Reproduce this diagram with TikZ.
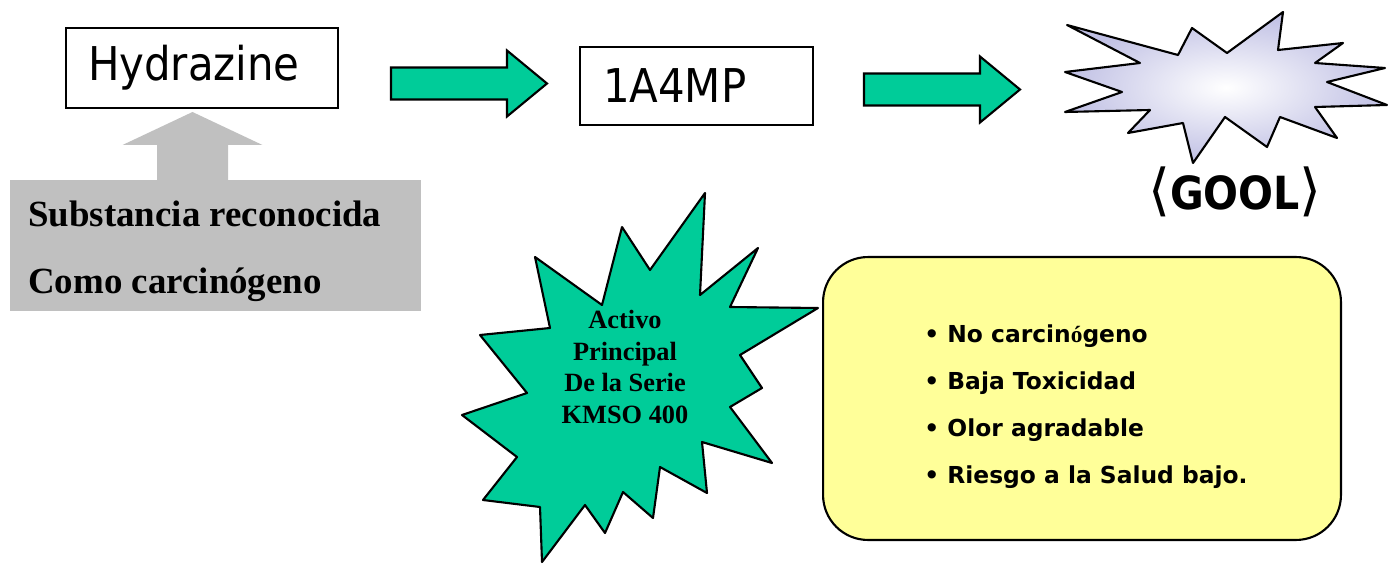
\documentclass[tikz,border=0pt]{standalone}
\usepackage{fontspec}
\setmainfont{Liberation Serif}
\newfontfamily\timesf{Liberation Serif}
\newfontfamily\tahoma{DejaVu Sans Condensed}
\newfontfamily\verdana{DejaVu Sans}
\usepackage{tikz}

\definecolor{kmgreen}{RGB}{0,204,153}
\definecolor{kmyellow}{RGB}{255,255,153}
\definecolor{kmgray}{RGB}{192,192,192}
\definecolor{kmlav}{RGB}{192,192,228}

\tikzset{
  namebox/.style={draw, line width=1.2pt, align=left, minimum height=1.6cm,
    font=\tahoma\fontsize{26.5}{30}\selectfont},
  blockarrow/.style={draw, fill=kmgreen, line width=1.2pt},
  burst/.style={draw, line width=1.2pt, line join=round},
  riskbox/.style={fill=kmgray, inner sep=0pt},
  risktext/.style={font=\timesf\bfseries\fontsize{21}{25}\selectfont, anchor=base west, inner sep=0pt},
  startext/.style={font=\timesf\bfseries\fontsize{15}{18}\selectfont, align=center},
  perkbox/.style={draw, fill=kmyellow, line width=1.2pt, rounded corners=0.9cm},
  perktext/.style={font=\verdana\bfseries\fontsize{13.3}{16}\selectfont, anchor=base west, inner sep=0pt},
}

\begin{document}
\begin{tikzpicture}[x=0.02cm, y=-0.02cm]
  \useasboundingbox (0,0) rectangle (1388,564); %page size in px

  \pgfmathsetmacro {\shl}{116}  %shaft length
  \pgfmathsetmacro {\hdl}{40}   %head length
  \pgfmathsetmacro {\shw}{16}   %half shaft width
  \pgfmathsetmacro {\hdw}{33}   %half head width

  %Boxes of the chain
  \node[namebox, text width=4.56cm, inner xsep=0.44cm] (hyd) at (202,68) {Hydrazine};
  \node[namebox, text width=3.74cm, inner xsep=0.46cm, minimum height=1.56cm] (amp) at (696.5,86) {1A4MP};

  %Green arrows
  \coordinate (a1tail) at (391,83.5);
  \coordinate (a2tail) at (864,89.5);
  \draw[blockarrow] (a1tail) ++(0,-\shw) -- ++(\shl,0) -- ++(0,\shw-\hdw) -- ++(\hdl,\hdw)
    -- ++(-\hdl,\hdw) -- ++(0,\shw-\hdw) -- ++(-\shl,0) -- cycle;
  \draw[blockarrow] (a2tail) ++(0,-\shw) -- ++(\shl,0) -- ++(0,\shw-\hdw) -- ++(\hdl,\hdw)
    -- ++(-\hdl,\hdw) -- ++(0,\shw-\hdw) -- ++(-\shl,0) -- cycle;

  %Explosion
  \draw[burst, shade, inner color=white, outer color=kmlav]
    (1067,25) -- (1178,55) -- (1192,28) -- (1227,53) -- (1283,12) -- (1278,50)
    -- (1343,43) -- (1315,63) -- (1385,68) -- (1327,82) -- (1387,105) -- (1315,107)
    -- (1337,138) -- (1280,117) -- (1267,147) -- (1225,117) -- (1193,163) -- (1183,123)
    -- (1128,133) -- (1150,110) -- (1065,112) -- (1122,92) -- (1065,72) -- (1140,63) -- cycle;
  \node[anchor=base, inner sep=0pt] (gool) at (1235,210)
    {\verdana\fontsize{32}{34}\selectfont ⟨\tahoma\bfseries\fontsize{26}{30}\selectfont GOOL\verdana\mdseries\fontsize{32}{34}\selectfont ⟩};

  %Grey box and arrow
  \node[riskbox, minimum width=8.22cm, minimum height=2.62cm] (risk) at (215.5,245.5) {};
  \coordinate (gtail) at (192.5,180);
  \coordinate (gtip) at (192.5,112);
  \fill[kmgray] (gtail) ++(-35.5,0) -- ++(0,-35) -- ++(-34.5,0) -- (gtip) -- ++(70,33)
    -- ++(-34.5,0) -- ++(0,35) -- cycle;
  \node[risktext] (r1) at (28,226) {Substancia reconocida};
  \node[risktext] (r2) at (28,293) {Como carcinógeno};

  %Green star
  \draw[blockarrow, line join=round]
    (705,193) -- (700,295) -- (758,248) -- (730,307) -- (818,308) -- (740,355)
    -- (762,388) -- (730,407) -- (772,463) -- (702,442) -- (707,493) -- (660,467)
    -- (653,518) -- (623,492) -- (605,533) -- (585,505) -- (542,562) -- (540,507)
    -- (483,500) -- (517,457) -- (462,415) -- (527,393) -- (480,335) -- (550,328)
    -- (535,257) -- (602,305) -- (622,227) -- (650,270) -- cycle;
  \node[startext] (kmso) at (625,367) {Activo\\Principal\\De la Serie\\KMSO 400};

  %Yellow box
  \node[perkbox, minimum width=10.36cm, minimum height=5.66cm] (perks) at (1082,398.5) {};
  \node[perktext] (p1) at (924,342) {• No carcin{\timesf ó}geno};
  \node[perktext] (p2) at (924,389) {• Baja Toxicidad};
  \node[perktext] (p3) at (924,436) {• Olor agradable};
  \node[perktext] (p4) at (924,483) {• Riesgo a la Salud bajo.};
\end{tikzpicture}
\end{document}
